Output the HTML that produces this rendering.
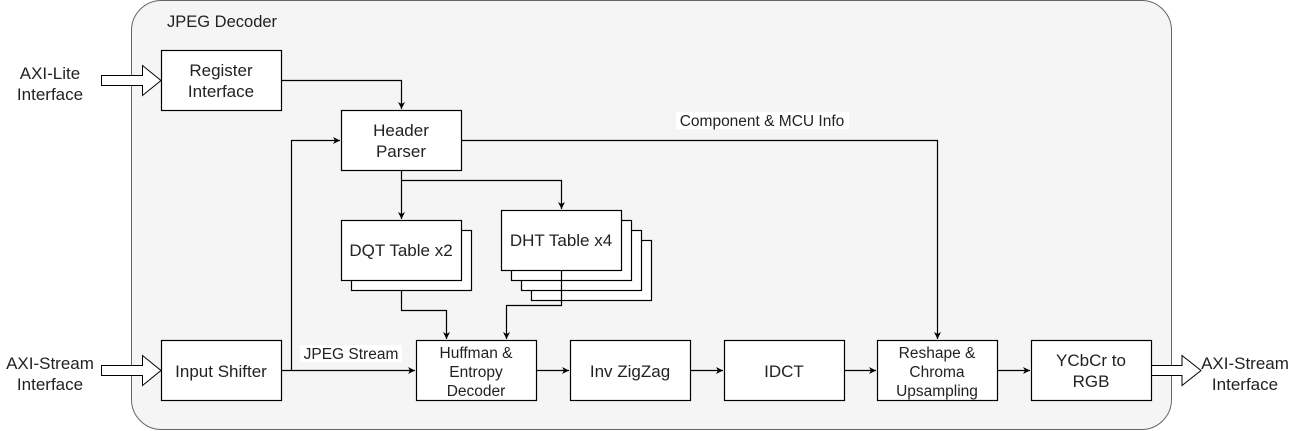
<!DOCTYPE html>
<html><head><style>body{margin:0;background:#fff}svg{display:block}text{font-family:"Liberation Sans",Arial,sans-serif;fill:#222}</style></head><body>
<svg width="1302" height="431" viewBox="0 0 1302 431" xmlns="http://www.w3.org/2000/svg">
<defs><marker id="a" markerWidth="8" markerHeight="8" refX="7" refY="4" orient="auto" markerUnits="userSpaceOnUse"><path d="M0,0.5 L7,4 L0,7.5 L2,4 Z" fill="#000"/></marker></defs>
<rect x="131.5" y="0.5" width="1040" height="429" rx="30" fill="#f5f5f5" stroke="#666"/>
<text x="167" y="27" font-size="16.5">JPEG Decoder</text>
<g fill="#fff" stroke="#000" stroke-width="1">
<path d="M101.5,75.5 H142.5 V65.5 L161,80.5 L142.5,95.5 V85.5 H101.5 Z"/>
<path d="M101.5,365.5 H142.5 V355.5 L161,370.5 L142.5,385.5 V375.5 H101.5 Z"/>
<path d="M1151.5,365.5 H1182 V355.5 L1201,370.5 L1182,385.5 V375.5 H1151.5 Z"/>
</g>
<g fill="#fff" stroke="#000" stroke-width="1.2">
<rect x="161.5" y="50.5" width="120" height="60"/>
<rect x="341.5" y="110.5" width="120" height="60"/>
<rect x="351.5" y="230.5" width="120" height="60"/>
<rect x="341.5" y="220.5" width="120" height="60"/>
<rect x="531.5" y="240.5" width="120" height="60"/>
<rect x="521.5" y="230.5" width="120" height="60"/>
<rect x="511.5" y="220.5" width="120" height="60"/>
<rect x="501.5" y="210.5" width="120" height="60"/>
<rect x="161.5" y="340.5" width="120" height="60"/>
<rect x="416.5" y="340.5" width="120" height="60"/>
<rect x="570.5" y="340.5" width="120" height="60"/>
<rect x="724.5" y="340.5" width="120" height="60"/>
<rect x="877.5" y="340.5" width="120" height="60"/>
<rect x="1031.5" y="340.5" width="120" height="60"/>
</g>
<g fill="none" stroke="#000" stroke-width="1.2" marker-end="url(#a)">
<path d="M281.5,80.5 H401.5 V109"/>
<path d="M281.5,370.5 H291.5 V140.5 H340"/>
<path d="M461.5,140.5 H937.5 V339"/>
<path d="M401.5,170.5 V219"/>
<path d="M401.5,180.5 H561.5 V209"/>
<path d="M401.5,290.5 V310.5 H446.5 V339"/>
<path d="M561.5,270.5 V305.5 H506.5 V339"/>
<path d="M291.5,370.5 H415"/>
<path d="M536.5,370.5 H569"/>
<path d="M690.5,370.5 H723"/>
<path d="M844.5,370.5 H876"/>
<path d="M997.5,370.5 H1030"/>
</g>
<rect x="300" y="345" width="102" height="17" fill="#fff"/>
<rect x="676" y="112" width="173" height="17" fill="#fff"/>
<g font-size="17" text-anchor="middle">
<text x="50" y="79">AXI-Lite</text><text x="50" y="100">Interface</text>
<text x="50" y="369">AXI-Stream</text><text x="50" y="390">Interface</text>
<text x="1245" y="369">AXI-Stream</text><text x="1245" y="390">Interface</text>
<text x="221" y="76">Register</text><text x="221" y="97">Interface</text>
<text x="401" y="136">Header</text><text x="401" y="157">Parser</text>
<text x="401" y="256">DQT Table x2</text>
<text x="561" y="246">DHT Table x4</text>
<text x="221" y="377">Input Shifter</text>
<text x="630" y="377">Inv ZigZag</text>
<text x="784" y="377">IDCT</text>
<text x="1091" y="366">YCbCr to</text><text x="1091" y="387">RGB</text>
</g>
<g font-size="15.5" text-anchor="middle">
<text x="476" y="358">Huffman &amp;</text><text x="476" y="377">Entropy</text><text x="476" y="396">Decoder</text>
<text x="937" y="358">Reshape &amp;</text><text x="937" y="377">Chroma</text><text x="937" y="396">Upsampling</text>
<text x="351" y="359">JPEG Stream</text>
<text x="762" y="126">Component &amp; MCU Info</text>
</g>
</svg>
</body></html>
